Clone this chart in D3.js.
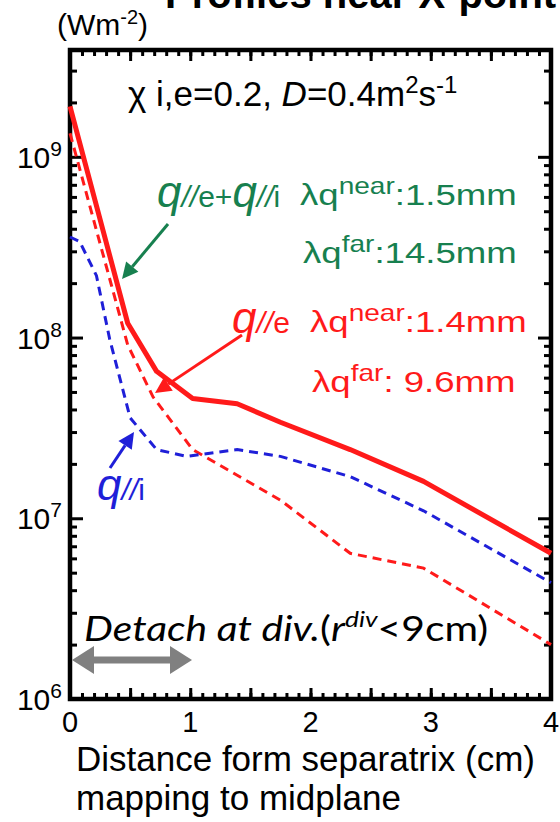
<!DOCTYPE html>
<html>
<head>
<meta charset="utf-8">
<script src="https://cdn.jsdelivr.net/npm/d3@7"></script>
<style>
  body { margin: 0; background: #fff; }
  svg { display: block; font-family: "Liberation Sans", Arial, sans-serif; }
</style>
</head>
<body>
<svg id="chart" width="560" height="822"></svg>
<script>
// distance from separatrix (cm) and parallel heat flux (W m^-2)
const xTotal = [0, 0.48, 0.72, 1.02, 1.39, 1.75, 2.33, 2.94, 4];
const qTotal = [1.9e9, 1.2e8, 6.5e7, 4.6e7, 4.3e7, 3.4e7, 2.4e7, 1.6e7, 6.4e6];

const xElec = [0, 0.48, 0.69, 1.02, 1.75, 2.33, 2.94, 4];
const qElec = [1.35e9, 9.1e7, 4.7e7, 2.4e7, 1.26e7, 6.4e6, 5.3e6, 2.0e6];

const xIon = [0, 0.08, 0.22, 0.33, 0.5, 0.72, 0.97, 1.39, 1.75, 2.33, 2.94, 4];
const qIon = [3.6e8, 3.4e8, 2.2e8, 9.8e7, 3.6e7, 2.4e7, 2.2e7, 2.4e7, 2.2e7, 1.7e7, 1.1e7, 4.4e6];

const xTickLabels = [0, 1, 2, 3, 4];
const yDecades = [6, 7, 8, 9];

const RED = "#ff1a1a";
const BLUE = "#1f1fd8";
const GREEN = "#17804f";

const svg = d3.select("#chart");

// plot frame
const pLeft = 70, pRight = 551, pTop = 50, pBottom = 699;

const x = d3.scaleLinear().domain([0, 4]).range([pLeft, pRight]);
const y = d3.scaleLog().domain([1e6, 3.9e9]).range([pBottom, pTop]);

// title, mostly cut off at the top of the picture (as in the original)
svg.append("text")
  .attr("x", 165)
  .attr("y", 8)
  .attr("font-size", 40)
  .attr("font-weight", "bold")
  .text("Profiles near X-point");

// unit label
const unit = svg.append("text")
  .attr("x", 57)
  .attr("y", 35)
  .attr("font-size", 30);
unit.append("tspan").text("(Wm");
unit.append("tspan").attr("font-size", 20).attr("dy", -11).text("-2");
unit.append("tspan").attr("dy", 11).text(")");

// ticks, all pointing inward
const majorX = d3.range(0, 4.001, 0.5);
const minorX = d3.range(0, 4.001, 0.1);
const majorY = yDecades.map(d => Math.pow(10, d));
const minorY = [];
yDecades.forEach(d => {
  for (let k = 2; k <= 9; k++) {
    const v = k * Math.pow(10, d);
    if (v < 3.9e9) minorY.push(v);
  }
});

function tickAxis(axis, pos, values, size) {
  const g = svg.append("g")
    .attr("transform", pos)
    .call(axis.tickValues(values).tickSize(-size).tickFormat(""));
  g.select(".domain").remove();
  g.selectAll("line").attr("stroke", "#000").attr("stroke-width", 3);
  return g;
}

tickAxis(d3.axisBottom(x), `translate(0,${pBottom})`, minorX, 6);
tickAxis(d3.axisBottom(x), `translate(0,${pBottom})`, majorX, 11);
tickAxis(d3.axisTop(x), `translate(0,${pTop})`, minorX, 6);
tickAxis(d3.axisTop(x), `translate(0,${pTop})`, majorX, 11);
tickAxis(d3.axisLeft(y), `translate(${pLeft},0)`, minorY, 7);
tickAxis(d3.axisLeft(y), `translate(${pLeft},0)`, majorY, 13);
tickAxis(d3.axisRight(y), `translate(${pRight},0)`, minorY, 7);
tickAxis(d3.axisRight(y), `translate(${pRight},0)`, majorY, 13);

svg.append("rect")
  .attr("x", pLeft)
  .attr("y", pTop)
  .attr("width", pRight - pLeft)
  .attr("height", pBottom - pTop)
  .attr("fill", "none")
  .attr("stroke", "#000")
  .attr("stroke-width", 4.5);

// tick labels
yDecades.forEach(d => {
  const t = svg.append("text")
    .attr("x", 62)
    .attr("y", y(Math.pow(10, d)) + 11)
    .attr("text-anchor", "end")
    .attr("font-size", 30);
  t.append("tspan").text("10");
  t.append("tspan").attr("font-size", 21).attr("dy", -12).text(d);
});

svg.selectAll(".xlab")
  .data(xTickLabels)
  .join("text")
  .attr("class", "xlab")
  .attr("x", d => x(d))
  .attr("y", 732)
  .attr("text-anchor", "middle")
  .attr("font-size", 29)
  .text(d => d);

// axis title
svg.append("text")
  .attr("x", 76)
  .attr("y", 771)
  .attr("font-size", 35)
  .text("Distance form separatrix (cm)");
svg.append("text")
  .attr("x", 76)
  .attr("y", 810)
  .attr("font-size", 35)
  .text("mapping to midplane");

// profiles
const line = d3.line()
  .x(d => x(d[0]))
  .y(d => y(d[1]));

const plot = svg.append("g");

plot.append("path")
  .datum(d3.zip(xElec, qElec))
  .attr("d", line)
  .attr("fill", "none")
  .attr("stroke", RED)
  .attr("stroke-width", 3)
  .attr("stroke-dasharray", "9,6");

plot.append("path")
  .datum(d3.zip(xIon, qIon))
  .attr("d", line)
  .attr("fill", "none")
  .attr("stroke", BLUE)
  .attr("stroke-width", 3)
  .attr("stroke-dasharray", "9,6");

plot.append("path")
  .datum(d3.zip(xTotal, qTotal))
  .attr("d", line)
  .attr("fill", "none")
  .attr("stroke", RED)
  .attr("stroke-width", 5)
  .attr("stroke-linejoin", "round");

// arrows
function arrow(x1, y1, x2, y2, color, w, headLen, headW) {
  const a = Math.atan2(y2 - y1, x2 - x1);
  const bx = x2 - headLen * Math.cos(a), by = y2 - headLen * Math.sin(a);
  svg.append("line")
    .attr("x1", x1).attr("y1", y1)
    .attr("x2", bx).attr("y2", by)
    .attr("stroke", color)
    .attr("stroke-width", w);
  const px = -Math.sin(a) * headW, py = Math.cos(a) * headW;
  svg.append("polygon")
    .attr("points", `${x2},${y2} ${bx + px},${by + py} ${bx - px},${by - py}`)
    .attr("fill", color);
}

arrow(168, 224, 122, 279, GREEN, 3, 16, 8);
arrow(242, 335, 155, 393, RED, 3, 16, 8);
arrow(110, 468, 134, 432, BLUE, 3, 16, 8);

// detach range, double headed
arrow(132, 660, 72, 660, "#808080", 7, 22, 14);
arrow(132, 660, 192, 660, "#808080", 7, 22, 14);

// parameters
const par = svg.append("text")
  .attr("x", 128)
  .attr("y", 106)
  .attr("font-size", 35);
par.append("tspan").text("\u03c7 i,e=0.2, ");
par.append("tspan").attr("font-style", "italic").text("D");
par.append("tspan").text("=0.4m");
par.append("tspan").attr("font-size", 24).attr("dy", -13).text("2");
par.append("tspan").attr("dy", 13).text("s");
par.append("tspan").attr("font-size", 24).attr("dy", -13).text("-1");

// flux labels
function qLabel(xp, yp, sub, color) {
  const t = svg.append("text")
    .attr("x", xp)
    .attr("y", yp)
    .attr("fill", color);
  t.append("tspan").attr("font-size", 44).attr("font-style", "italic").text("q");
  t.append("tspan").attr("font-size", 30).attr("font-style", "italic").text("//");
  t.append("tspan").attr("font-size", 30).text(sub);
  return t;
}

const gq = qLabel(157, 207, "e", GREEN);
gq.append("tspan").attr("font-size", 30).text("+");
gq.append("tspan").attr("font-size", 44).attr("font-style", "italic").text("q");
gq.append("tspan").attr("font-size", 30).attr("font-style", "italic").text("//");
gq.append("tspan").attr("font-size", 30).text("i");

qLabel(232, 333, "e", RED);
qLabel(97, 500, "i", BLUE);

function lambdaLabel(xp, yp, sup, value, color, sx) {
  const g = svg.append("g").attr("transform", `translate(${xp},${yp}) scale(${sx},1)`);
  const t = g.append("text").attr("fill", color).attr("font-size", 30);
  t.append("tspan").text("\u03bbq");
  t.append("tspan").attr("font-size", 23).attr("dy", -11).text(sup);
  t.append("tspan").attr("dy", 11).text(value);
}

lambdaLabel(300, 205, "near", ":1.5mm", GREEN, 1.22);
lambdaLabel(303, 263, "far", ":14.5mm", GREEN, 1.22);
lambdaLabel(310, 332, "near", ":1.4mm", RED, 1.22);
lambdaLabel(312, 392, "far", ": 9.6mm", RED, 1.22);

// detachment note
const det = svg.append("g")
  .attr("transform", "translate(84,641) scale(1.2,1)")
  .append("text")
  .attr("font-size", 34)
  .style("font-family", "Lato, 'Open Sans', sans-serif");
det.append("tspan").attr("font-style", "italic").text("Detach at div.");
det.append("tspan").text("(");
det.append("tspan").attr("font-style", "italic").text("r");
det.append("tspan").attr("font-style", "italic").attr("font-size", 22).attr("dy", -14).text("div");
det.append("tspan").attr("dy", 14).text("<9cm)");
</script>
</body>
</html>
